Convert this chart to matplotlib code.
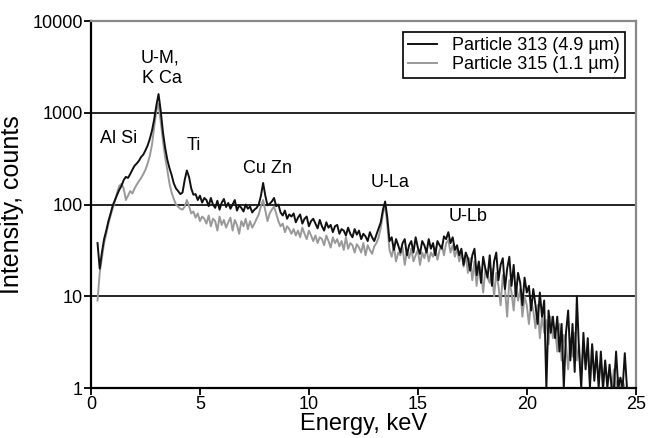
import numpy as np
import matplotlib.pyplot as plt
from matplotlib.ticker import FixedLocator, FixedFormatter

plt.rcParams['font.family'] = ['Liberation Sans', 'DejaVu Sans']

# energy channels, keV (0.1 keV bins)
energy = np.round(np.arange(0.3, 24.95, 0.1), 2)

# Particle 313 (4.9 um), counts per channel
p313 = [38, 20, 30, 42, 52, 66, 80, 98, 112, 128,
        145, 160, 185, 200, 195, 215, 240, 265, 280, 300,
        330, 350, 390, 440, 520, 640, 850, 1200, 1600, 1050,
        620, 420, 310, 250, 210, 170, 150, 140, 130, 135,
        185, 235, 200, 150, 128, 130, 112, 125, 105, 118,
        112, 96, 118, 100, 92, 110, 88, 105, 115, 94,
        104, 90, 100, 112, 86, 98, 92, 84, 100, 90,
        95, 82, 88, 92, 100, 125, 172, 125, 98, 102,
        108, 118, 96, 100, 82, 76, 86, 70, 78, 74,
        80, 64, 72, 78, 62, 70, 74, 58, 66, 70,
        62, 55, 68, 58, 52, 64, 56, 60, 50, 58,
        60, 48, 54, 52, 46, 56, 48, 44, 54, 47,
        52, 42, 48, 45, 40, 50, 44, 40, 47, 55,
        64, 88, 108, 72, 40, 44, 32, 42, 36, 30,
        38, 42, 28, 36, 40, 30, 44, 34, 29, 40,
        36, 30, 42, 33, 38, 28, 40, 36, 33, 45,
        42, 50, 38, 44, 32, 36, 28, 33, 22, 30,
        26, 19, 28, 33, 17, 24, 14, 27, 20, 16,
        28, 13, 24, 30, 15, 22, 26, 12, 20, 27,
        13, 22, 10, 18, 14, 8, 16, 11, 13, 7,
        12, 8, 5, 11, 6, 9, 1.0, 7, 4, 6,
        3.5, 6, 2.5, 5, 1.0, 4, 7, 2, 5, 1.5,
        10, 2.5, 1.0, 4, 1.6, 3.5, 1.0, 3, 1.2, 2.5,
        1.0, 2.5, 1.0, 2, 1.0, 1.8, 1.0, 1.0, 2.5, 1.0,
        1.3, 1.0, 2.4, 1.0, 1.0, 1.0, 1.0]

# Particle 315 (1.1 um)
p315 = [9, 18, 26, 38, 48, 62, 76, 92, 110, 135,
        160, 168, 150, 112, 125, 140, 132, 150, 165, 180,
        195, 215, 240, 280, 340, 450, 700, 1050, 1250, 800,
        500, 330, 240, 170, 135, 115, 100, 95, 90, 88,
        95, 112, 96, 80, 84, 72, 80, 66, 74, 70,
        62, 76, 58, 70, 66, 52, 74, 60, 68, 56,
        64, 72, 52, 68, 60, 48, 66, 58, 70, 54,
        66, 56, 62, 70, 78, 96, 112, 86, 66, 80,
        88, 95, 80, 66, 58, 62, 50, 58, 54, 48,
        54, 46, 52, 44, 56, 48, 42, 52, 46, 40,
        46, 38, 44, 42, 36, 46, 40, 34, 44, 38,
        42, 35, 40, 32, 44, 33, 38, 36, 30, 37,
        34, 30, 38, 28, 36, 32, 29, 35, 38, 44,
        56, 80, 100, 60, 32, 27, 35, 24, 30, 28,
        34, 22, 31, 26, 33, 24, 28, 32, 22, 30,
        26, 33, 24, 30, 27, 34, 25, 32, 36, 28,
        38, 41, 30, 36, 27, 33, 24, 31, 21, 28,
        18, 26, 15, 24, 13, 22, 19, 11, 20, 16,
        14, 20, 10, 18, 13, 8, 17, 12, 6, 15,
        11, 7, 14, 9, 12, 6, 10, 8, 5, 9,
        7, 4.5, 8, 3.5, 6, 4, 5.5, 3, 6, 3.5,
        4.5, 2.5, 5, 2, 3.8, 3, 1.6, 3.5, 2.2, 4,
        2, 3, 1.4, 2.8, 1.8, 2.4, 1.2, 3, 1.4, 2.2,
        1.2, 2.0, 1.0, 1.8, 1.2, 1.5, 1.0, 1.6, 1.0, 1.3,
        1.0, 1.2, 1.0, 1.0, 1.0, 1.0, 1.0]

# peak labels: text, energy, counts
peak_text = ['U-M,', 'K Ca', 'Al Si', 'Ti', 'Cu Zn', 'U-La', 'U-Lb']
peak_x = [3.18, 3.27, 1.29, 4.7, 8.1, 13.72, 17.3]
peak_y = [3950, 2390, 530, 445, 250, 172, 75]

fig = plt.figure(figsize=(6.5, 4.38), dpi=100)
ax = fig.add_axes([0.14, 0.114, 0.838, 0.838])

ax.plot(energy, p313, color='#111111', lw=1.4, label='Particle 313 (4.9 µm)', zorder=3)
ax.plot(energy, p315, color='#999999', lw=1.4, label='Particle 315 (1.1 µm)', zorder=2)

ax.set_yscale('log')
ax.set_ylim(1, 10000)
ax.set_xlim(0, 25)
for v in [10, 100, 1000]:
    ax.axhline(v, color='black', lw=1.2, zorder=1)

ax.yaxis.set_major_locator(FixedLocator([1, 10, 100, 1000, 10000]))
ax.yaxis.set_major_formatter(FixedFormatter(['1', '10', '100', '1000', '10000']))
ax.yaxis.set_minor_locator(FixedLocator([]))
ax.set_xticks([0, 5, 10, 15, 20, 25])
ax.tick_params(labelsize=13, length=5, width=1.3, direction='out', pad=1)

for s in ['left', 'bottom']:
    ax.spines[s].set_color('black')
    ax.spines[s].set_linewidth(1.6)
for s in ['top', 'right']:
    ax.spines[s].set_color('#888888')
    ax.spines[s].set_linewidth(1.6)

ax.set_xlabel('Energy, keV', fontsize=17, labelpad=0)
ax.set_ylabel('Intensity, counts', fontsize=18, labelpad=6)

for t, x, y in zip(peak_text, peak_x, peak_y):
    ax.text(x, y, t, fontsize=13, ha='center', va='center')

leg = ax.legend(loc='upper right', fontsize=13, fancybox=False, framealpha=1,
                edgecolor='black', borderaxespad=0.6, handlelength=1.6,
                labelspacing=0.1, borderpad=0.3)
leg.get_frame().set_linewidth(1.2)

fig.savefig('out.png', dpi=100)
